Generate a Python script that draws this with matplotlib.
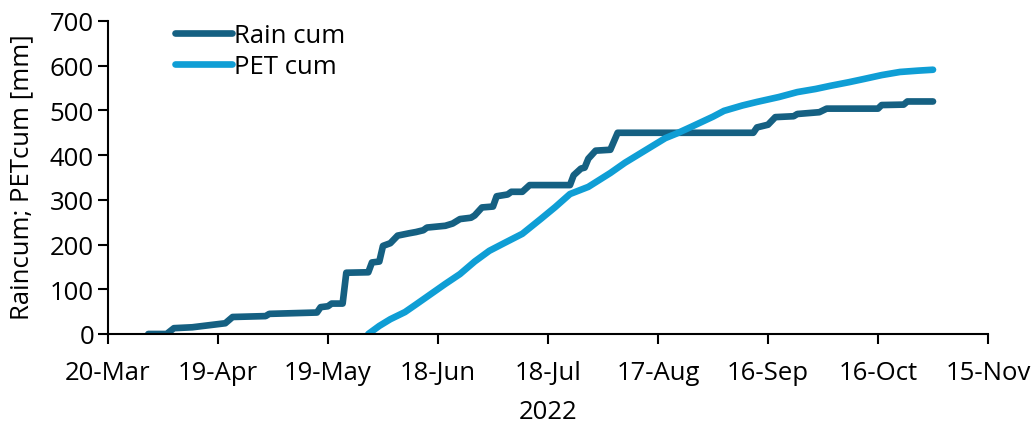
import matplotlib
matplotlib.use("Agg")
import matplotlib.pyplot as plt
import matplotlib.dates as mdates
import pandas as pd

rain_dates = ["2022-03-31", "2022-04-05", "2022-04-07", "2022-04-12", "2022-04-19", "2022-04-21",
              "2022-04-23", "2022-05-02", "2022-05-03", "2022-05-16", "2022-05-17", "2022-05-19",
              "2022-05-20", "2022-05-23", "2022-05-24", "2022-05-30", "2022-05-31", "2022-06-02",
              "2022-06-03", "2022-06-05", "2022-06-07", "2022-06-10", "2022-06-12", "2022-06-14",
              "2022-06-15", "2022-06-20", "2022-06-22", "2022-06-24", "2022-06-27", "2022-06-28",
              "2022-06-30", "2022-07-03", "2022-07-04", "2022-07-07", "2022-07-08", "2022-07-11",
              "2022-07-13", "2022-07-24", "2022-07-25", "2022-07-27", "2022-07-28", "2022-07-29",
              "2022-07-31", "2022-08-04", "2022-08-06", "2022-09-12", "2022-09-13", "2022-09-16",
              "2022-09-18", "2022-09-23", "2022-09-24", "2022-09-30", "2022-10-02", "2022-10-16",
              "2022-10-17", "2022-10-23", "2022-10-24", "2022-10-31"]
rain_cum = [0, 0, 13, 15, 22, 24,
            38, 40, 45, 48, 60, 62,
            68, 68, 137, 138, 160, 162,
            197, 203, 220, 225, 228, 232,
            238, 242, 247, 257, 260, 265,
            283, 285, 308, 312, 318, 318,
            333, 333, 355, 370, 372, 392,
            410, 412, 450, 450, 462, 468,
            485, 487, 492, 496, 504, 504,
            512, 513, 520, 520]

pet_dates = ["2022-05-30", "2022-06-02", "2022-06-05", "2022-06-09", "2022-06-12", "2022-06-16",
             "2022-06-20", "2022-06-24", "2022-06-28", "2022-07-02", "2022-07-06", "2022-07-11",
             "2022-07-16", "2022-07-20", "2022-07-24", "2022-07-29", "2022-08-04", "2022-08-08",
             "2022-08-12", "2022-08-19", "2022-08-22", "2022-08-26", "2022-09-01", "2022-09-04",
             "2022-09-09", "2022-09-13", "2022-09-19", "2022-09-24", "2022-09-29", "2022-10-03",
             "2022-10-08", "2022-10-12", "2022-10-17", "2022-10-22", "2022-10-27", "2022-10-31"]
pet_cum = [0, 18, 33, 49, 66, 89,
           112, 134, 162, 186, 203, 224,
           257, 284, 313, 329, 360, 383,
           403, 438, 448, 463, 486, 499,
           511, 519, 530, 541, 548, 555,
           563, 570, 579, 586, 589, 591]

tick_dates = ["2022-03-20", "2022-04-19", "2022-05-19", "2022-06-18", "2022-07-18",
              "2022-08-17", "2022-09-16", "2022-10-16", "2022-11-15"]

RAIN_COLOR = "#156082"
PET_COLOR = "#0F9ED5"
FS = 18.5

plt.rcParams["font.family"] = ["Open Sans", "DejaVu Sans"]

fig = plt.figure(figsize=(10.35, 4.27), dpi=100)
ax = fig.add_axes([0.1043, 0.2155, 0.8503, 0.733])

ax.plot(pd.to_datetime(rain_dates), rain_cum, color=RAIN_COLOR, linewidth=4.8,
        solid_capstyle="round", solid_joinstyle="round", label="Rain cum")
ax.plot(pd.to_datetime(pet_dates), pet_cum, color=PET_COLOR, linewidth=4.8,
        solid_capstyle="round", solid_joinstyle="round", label="PET cum")

ticks = pd.to_datetime(tick_dates)
ax.set_xlim(ticks[0], ticks[-1])
ax.set_xticks(ticks)
ax.xaxis.set_major_formatter(mdates.DateFormatter("%-d-%b"))
ax.set_ylim(0, 700)
ax.set_yticks(range(0, 701, 100))

for side in ("top", "right"):
    ax.spines[side].set_visible(False)
for side in ("left", "bottom"):
    ax.spines[side].set_linewidth(1.5)
ax.tick_params(axis="both", labelsize=FS, width=1.5, length=7, direction="out", pad=3)
ax.tick_params(axis="x", pad=12)

ax.set_xlabel("2022", fontsize=FS, labelpad=10)
fig.text(0.021, 0.585, "Raincum; PETcum [mm]", rotation=90, ha="center", va="center", fontsize=FS)

ax.legend(loc="upper left", bbox_to_anchor=(0.062, 1.035), frameon=False, fontsize=FS,
          borderpad=0, handlelength=2.2, handletextpad=0.1, labelspacing=0.25)

fig.savefig("out.png", dpi=100)
